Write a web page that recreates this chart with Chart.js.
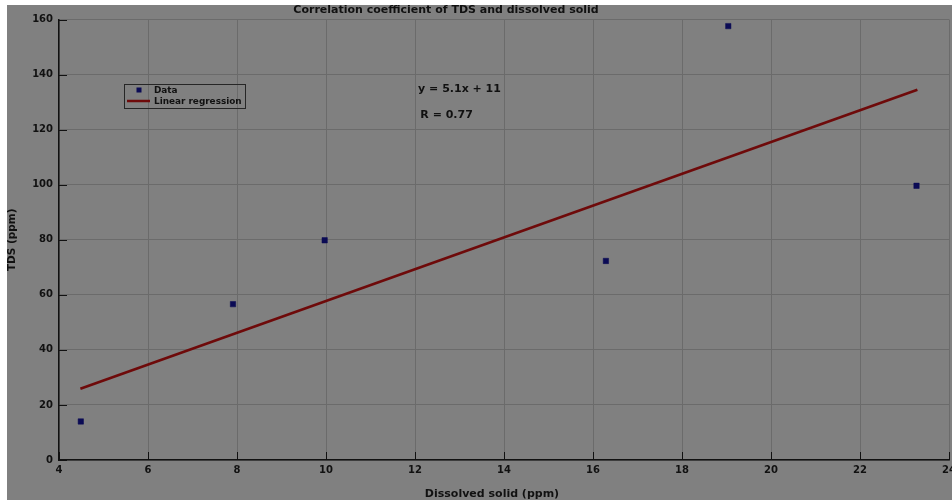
<!DOCTYPE html>
<html lang="en">
<head>
    <meta charset="UTF-8">
    <script src="https://cdn.jsdelivr.net/npm/chart.js"></script>
    <title>Correlation coefficient of TDS and dissolved solid</title>
    <style>
        body { margin: 0; background: #fff; overflow: hidden; }
        canvas { display: block; }
    </style>
</head>
<body>
    <canvas id="myChart" width="1000" height="503"></canvas>

    <script>
        // measured values
        const dissolved = [4.49, 7.91, 9.97, 16.29, 19.04, 23.27];
        const tds = [14.0, 56.6, 79.8, 72.3, 157.6, 99.6];
        // regression line end points
        const fitX = [4.48, 23.29];
        const fitY = [25.9, 134.5];
        const xTicks = [4, 6, 8, 10, 12, 14, 16, 18, 20, 22, 24];
        const yTicks = [0, 20, 40, 60, 80, 100, 120, 140, 160];
        const titleText = 'Correlation coefficient of TDS and dissolved solid';
        const xLabel = 'Dissolved solid (ppm)';
        const yLabel = 'TDS (ppm)';
        const eqText = 'y = 5.1x + 11';
        const rText = 'R = 0.77';

        const ctx = document.getElementById('myChart').getContext('2d');
        const BG = '#808080';
        const GRID = '#6b6b6b';
        const INK = '#111';
        const PT = '#0b0b55';
        const LINE = '#6e0a0a';
        const FONT = '"DejaVu Sans", sans-serif';

        const figure = {
            id: 'figure',
            beforeDraw(chart) {
                const c = chart.ctx;
                c.save();
                c.fillStyle = '#fff';
                c.fillRect(0, 0, chart.width, chart.height);
                c.fillStyle = BG;
                c.fillRect(7, 5, chart.width - 7, 495);
                c.restore();
            },
            beforeDatasetsDraw(chart) {
                // inward tick marks
                const c = chart.ctx, a = chart.chartArea;
                const xs = chart.scales.x, ys = chart.scales.y;
                c.save();
                c.strokeStyle = INK;
                c.lineWidth = 1;
                c.beginPath();
                xTicks.forEach(v => {
                    const px = Math.round(xs.getPixelForValue(v)) + 0.5;
                    c.moveTo(px, a.bottom); c.lineTo(px, a.bottom - 8);
                });
                yTicks.forEach(v => {
                    const py = Math.round(ys.getPixelForValue(v)) + 0.5;
                    c.moveTo(a.left, py); c.lineTo(a.left + 8, py);
                });
                c.stroke();
                c.restore();
            },
            afterDraw(chart) {
                const c = chart.ctx;
                const xs = chart.scales.x, ys = chart.scales.y;
                c.save();
                c.fillStyle = INK;
                c.textBaseline = 'middle';
                c.textAlign = 'center';
                c.font = 'bold 11px ' + FONT;
                c.fillText(titleText, 446, 10);
                c.fillText(xLabel, 492, 494);

                // equation text
                c.textAlign = 'left';
                c.fillText(eqText, xs.getPixelForValue(12.07), ys.getPixelForValue(134.7));
                c.fillText(rText, xs.getPixelForValue(12.12), ys.getPixelForValue(125.2));

                // legend box
                c.strokeStyle = '#262626';
                c.lineWidth = 1;
                c.strokeRect(124.5, 84.5, 121, 24);
                c.fillStyle = PT;
                c.fillRect(136.5, 87.5, 5, 5);
                c.strokeStyle = LINE;
                c.lineWidth = 2.5;
                c.beginPath();
                c.moveTo(127, 101); c.lineTo(150, 101);
                c.stroke();
                c.fillStyle = INK;
                c.font = 'bold 8.9px ' + FONT;
                c.fillText(chart.data.datasets[0].label, 154, 90.5);
                c.fillText(chart.data.datasets[1].label, 154, 101.5);
                c.restore();
            }
        };

        const myChart = new Chart(ctx, {
            type: 'scatter',
            data: {
                datasets: [{
                    label: 'Data',
                    data: dissolved.map((x, i) => ({ x: x, y: tds[i] })),
                    pointStyle: 'rect',
                    pointRadius: 3.8,
                    backgroundColor: PT,
                    borderColor: PT,
                    borderWidth: 0.5
                }, {
                    label: 'Linear regression',
                    data: fitX.map((x, i) => ({ x: x, y: fitY[i] })),
                    showLine: true,
                    pointRadius: 0,
                    borderColor: LINE,
                    borderWidth: 2.6
                }]
            },
            options: {
                responsive: false,
                animation: false,
                layout: { padding: { top: 19.5, right: 51, left: 0, bottom: 0 } },
                plugins: {
                    legend: { display: false },
                    tooltip: { enabled: false }
                },
                scales: {
                    x: {
                        type: 'linear',
                        min: 4,
                        max: 24,
                        afterBuildTicks: s => { s.ticks = xTicks.map(v => ({ value: v })); },
                        afterFit: s => { s.height = 43; },
                        ticks: {
                            color: INK,
                            font: { family: FONT, size: 10, weight: 'bold' },
                            padding: 4,
                            maxRotation: 0
                        },
                        grid: { color: GRID, lineWidth: 1, drawTicks: false },
                        border: { color: INK, width: 1.5 }
                    },
                    y: {
                        min: 0,
                        max: 160,
                        afterBuildTicks: s => { s.ticks = yTicks.map(v => ({ value: v })); },
                        afterFit: s => { s.width = 59; },
                        ticks: {
                            color: INK,
                            font: { family: FONT, size: 10, weight: 'bold' },
                            padding: 6
                        },
                        grid: { color: GRID, lineWidth: 1, drawTicks: false },
                        border: { color: INK, width: 1.5 },
                        title: {
                            display: true,
                            text: yLabel,
                            color: INK,
                            font: { family: FONT, size: 10.5, weight: 'bold' },
                            padding: { top: 6, bottom: 0 }
                        }
                    }
                }
            },
            plugins: [figure]
        });
    </script>
</body>
</html>
